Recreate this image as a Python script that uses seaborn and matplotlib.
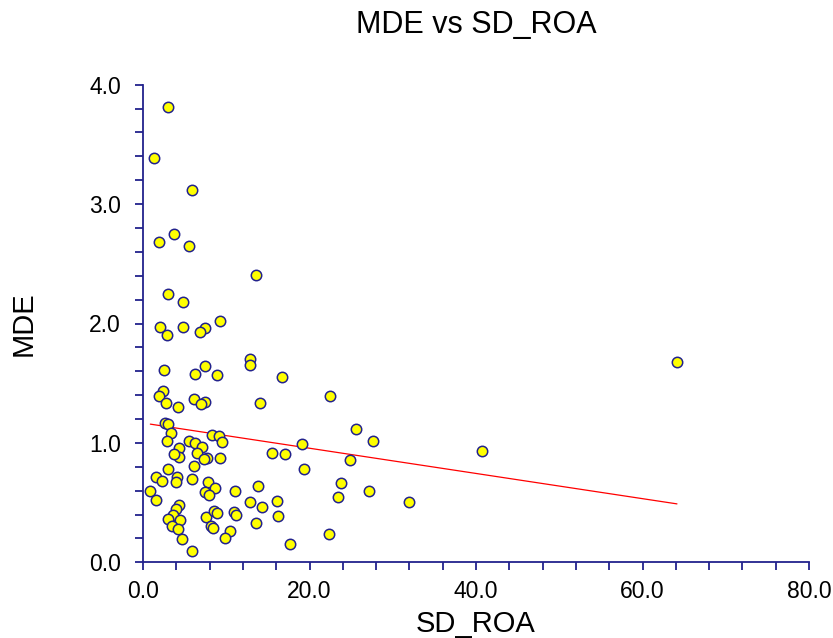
import matplotlib
matplotlib.use("Agg")
import matplotlib.pyplot as plt
import seaborn as sns
import numpy as np
import pandas as pd
from matplotlib.ticker import MultipleLocator, FormatStrFormatter

# ---- data ----
sd_roa = [3.0, 1.28, 5.84, 1.88, 3.76, 5.52, 13.56, 3.04, 4.75, 9.28,
          2.0, 4.75, 2.92, 7.48, 6.8, 2.56, 6.2, 7.48, 8.92, 12.88,
          12.88, 16.64, 2.4, 1.88, 2.76, 4.16, 6.08, 7.4, 7.0, 14.08,
          2.64, 3.04, 3.36, 2.92, 4.32, 4.32, 3.68, 5.56, 6.28, 7.04,
          6.48, 7.68, 7.32, 6.16, 9.28, 8.32, 9.12, 9.52, 15.5, 17.04,
          1.56, 2.95, 2.28, 4.08, 4.0, 5.88, 7.76, 8.68, 7.48, 7.88,
          11.08, 13.84, 0.88, 1.56, 4.32, 3.96, 3.6, 3.0, 4.4, 3.48,
          4.2, 4.68, 5.88, 7.6, 8.48, 8.88, 8.16, 8.36, 10.48, 9.88,
          10.96, 11.16, 12.88, 13.6, 14.24, 16.08, 16.2, 17.6, 22.48, 25.6,
          27.6, 19.08, 19.28, 24.85, 23.8, 23.4, 27.2, 31.9, 22.36, 64.14,
          40.77]
mde = [3.81, 3.39, 3.12, 2.68, 2.75, 2.65, 2.41, 2.25, 2.18, 2.02,
       1.97, 1.97, 1.90, 1.96, 1.93, 1.61, 1.58, 1.64, 1.57, 1.70,
       1.65, 1.555, 1.435, 1.39, 1.33, 1.30, 1.37, 1.345, 1.326, 1.337,
       1.17, 1.156, 1.08, 1.02, 0.957, 0.88, 0.91, 1.02, 0.997, 0.963,
       0.913, 0.876, 0.862, 0.806, 0.87, 1.066, 1.06, 1.005, 0.915, 0.91,
       0.717, 0.779, 0.68, 0.714, 0.673, 0.70, 0.675, 0.625, 0.586, 0.564,
       0.60, 0.639, 0.60, 0.52, 0.48, 0.45, 0.40, 0.363, 0.354, 0.30,
       0.28, 0.195, 0.095, 0.382, 0.432, 0.41, 0.307, 0.29, 0.265, 0.20,
       0.42, 0.40, 0.505, 0.33, 0.46, 0.513, 0.39, 0.153, 1.395, 1.116,
       1.02, 0.988, 0.78, 0.857, 0.66, 0.55, 0.60, 0.505, 0.24, 1.675,
       0.935]

title = "MDE vs SD_ROA"
x_label = "SD_ROA"
y_label = "MDE"

df = pd.DataFrame({"SD_ROA": sd_roa, "MDE": mde})

sns.set_theme(style="white")
plt.rcParams['font.family'] = ['Liberation Sans', 'DejaVu Sans']

navy = "#22228C"

fig = plt.figure(figsize=(8.33, 6.38), dpi=100)
ax = fig.add_axes([143 / 833, 1 - 562.3 / 638, (809 - 143) / 833, (562.3 - 84.7) / 638])

sns.regplot(data=df, x="SD_ROA", y="MDE", ax=ax, ci=None, truncate=True,
            scatter_kws=dict(s=56, color="#FFFF00", edgecolors=navy, linewidths=1.1,
                             alpha=1, zorder=3),
            line_kws=dict(color="#FF0000", linewidth=0.9, zorder=2))

ax.set_xlim(0, 80)
ax.set_ylim(0, 4)
ax.xaxis.set_major_locator(MultipleLocator(20))
ax.xaxis.set_minor_locator(MultipleLocator(4))
ax.yaxis.set_major_locator(MultipleLocator(1))
ax.yaxis.set_minor_locator(MultipleLocator(0.2))
ax.xaxis.set_major_formatter(FormatStrFormatter("%.1f"))
ax.yaxis.set_major_formatter(FormatStrFormatter("%.1f"))

for s in ["top", "right"]:
    ax.spines[s].set_visible(False)
for s in ["left", "bottom"]:
    ax.spines[s].set_color(navy)
    ax.spines[s].set_linewidth(1.3)

ax.tick_params(axis="both", which="both", direction="out", color=navy, width=1.3,
               labelsize=16.5, labelcolor="black")
ax.tick_params(axis="x", which="both", length=5.5, pad=7, bottom=True)
ax.tick_params(axis="y", which="both", length=6, pad=10, left=True)

ax.set_xlabel(x_label, fontsize=21, labelpad=5, color="black")
ax.set_ylabel(y_label, fontsize=21, labelpad=37, color="black")
ax.set_title(title, fontsize=22, pad=37, color="black")

fig.savefig("out.png", dpi=100)
